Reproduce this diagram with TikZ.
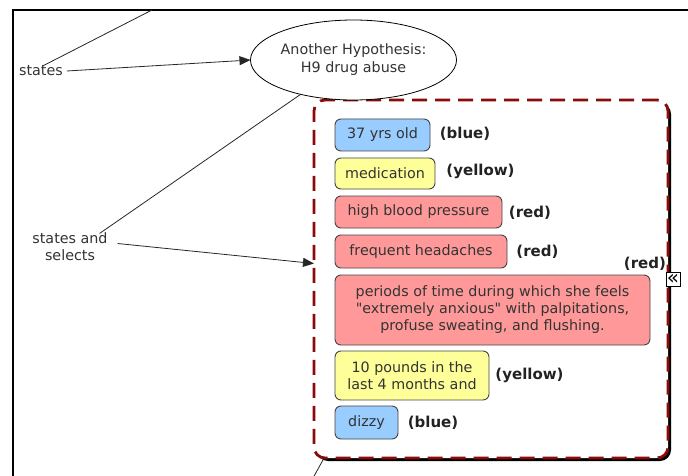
\documentclass[tikz,border=0pt]{standalone}
\usepackage{fontspec}
\setmainfont{DejaVu Sans}
\usetikzlibrary{arrows.meta,shapes.geometric}
\newcommand\strq{\XeTeXglyph\XeTeXcharglyph"22\relax}
\definecolor{cblue}{HTML}{99CCFF}
\definecolor{cyellow}{HTML}{FFFF99}
\definecolor{cred}{HTML}{FF9999}
\definecolor{dashred}{HTML}{8B0A0A}
\definecolor{txt}{HTML}{333333}
\definecolor{lbl}{HTML}{222222}
\definecolor{edge}{HTML}{444444}
\begin{document}
\begin{tikzpicture}[x=1pt,y=-1pt,
  every node/.style={inner sep=0pt, outer sep=0pt},
  regtext/.style={font=\fontsize{14.3}{17}\selectfont, text=txt, align=center},
  concept/.style={regtext, draw=edge, line width=0.9pt, rounded corners=6pt},
  lab/.style={font=\fontsize{15}{18}\selectfont\bfseries, text=lbl},
  conn/.style={line width=0.8pt, draw=black!85},
  arr/.style={conn, -{Triangle[length=11pt,width=9pt]}},
  grpbox/.style={draw=dashred, line width=2.8pt, dash pattern=on 15pt off 8pt, rounded corners=11pt, fill=white},
]
\useasboundingbox (0,0) rectangle (688,476);
% outer frame
\draw[line width=2pt] (13,476) -- (13,10) -- (688,10);

% group box with shadow
\fill[black, rounded corners=11pt] (317,103) rectangle (671,461);
\node[grpbox, minimum width=354pt, minimum height=358pt] (grp) at (491,279) {};

% ellipse
\node[ellipse, draw=black, line width=0.8pt, fill=white, minimum width=187pt, minimum height=80pt, regtext, text=txt, font=\fontsize{14.3}{18}\selectfont] (hyp) at (353.5,60) {Another Hypothesis:\\H9 drug abuse};

% linking phrases
\node[regtext] (st) at (41,71) {states};
\node[regtext] (sas) at (70,246.5) {states and\\selects};

\coordinate (ctop) at (152,10);
\coordinate (cbot) at (313,478);

\draw[conn] (st.70) -- (ctop);
\draw[arr] ([xshift=4pt]st.east) -- (hyp.west);
\draw[conn] (hyp.213) -- ([xshift=-8pt,yshift=-1pt]sas.north east);
\draw[arr] ([xshift=10pt,yshift=3pt]sas.east) -- (grp.175.5);
\draw[conn] (grp.227.7) -- (cbot);

% concepts
\node[concept, fill=cblue, minimum width=95pt, minimum height=32pt] (c1) at (382.5,135) {37 yrs old};
\node[concept, fill=cyellow, minimum width=100pt, minimum height=31pt] (c2) at (385,173.5) {medication};
\node[concept, fill=cred, minimum width=167pt, minimum height=32pt] (c3) at (418.5,212) {high blood pressure};
\node[concept, fill=cred, minimum width=172pt, minimum height=33pt] (c4) at (421,251.5) {frequent headaches};
\node[concept, fill=cred, minimum width=315pt, minimum height=70pt] (c6) at (492.5,310) {periods of time during which she feels\\\strq extremely anxious\strq\ with palpitations,\\profuse sweating, and flushing.};
\node[concept, fill=cyellow, minimum width=154pt, minimum height=49pt] (c7) at (412,375.5) {10 pounds in the\\last 4 months and};
\node[concept, fill=cblue, minimum width=63pt, minimum height=33pt] (c8) at (366.5,422.5) {dizzy};

% labels
\node[lab] (l1) at (465,134) {(blue)};
\node[lab] (l2) at (480.5,171) {(yellow)};
\node[lab] (l3) at (530,213) {(red)};
\node[lab] (l4) at (537.5,252) {(red)};
\node[lab] (l5) at (645,264) {(red)};
\node[lab] (l7) at (529.5,375) {(yellow)};
\node[lab] (l8) at (433,423) {(blue)};

% collapse icon
\node[draw=black, line width=0.8pt, fill=white, minimum width=14pt, minimum height=14pt, font=\fontsize{20}{20}\selectfont] (icon) at (673,279.5) {\raisebox{-1pt}{«}};
\end{tikzpicture}
\end{document}
